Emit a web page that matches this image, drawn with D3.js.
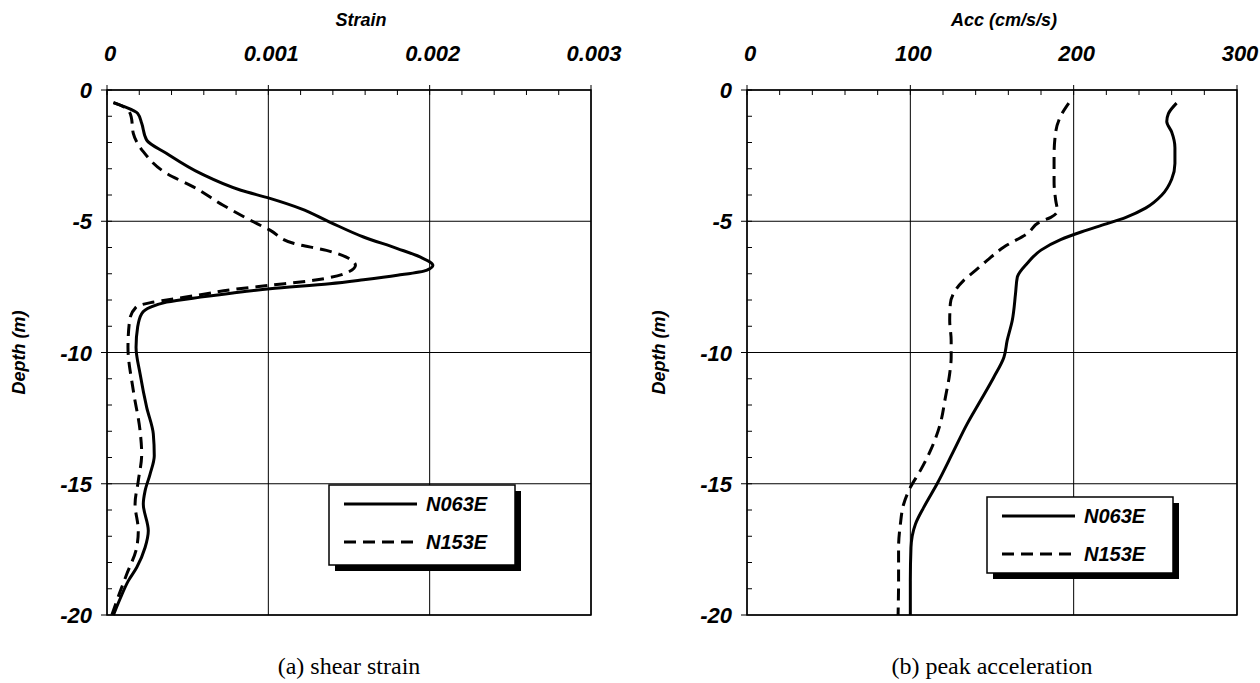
<!DOCTYPE html>
<html>
<head>
<meta charset="utf-8">
<script src="https://cdn.jsdelivr.net/npm/d3@7"></script>
<style>
  body { margin: 0; background: #fff; }
  text { fill: #000; }
  .tick-label { font-family: "Liberation Sans", Arial, sans-serif; font-weight: bold; font-style: italic; font-size: 22px; }
  .axis-title { font-family: "Liberation Sans", Arial, sans-serif; font-weight: bold; font-style: italic; font-size: 18px; }
  .legend-text { font-family: "Liberation Sans", Arial, sans-serif; font-weight: bold; font-style: italic; font-size: 20px; }
  .caption { font-family: "Liberation Serif", "Times New Roman", serif; font-size: 24px; }
</style>
</head>
<body>
<svg id="chart" width="1260" height="683"></svg>
<script>
// tick values
var depthTicks = [0, -5, -10, -15, -20];
var strainTicks = [0, 0.001, 0.002, 0.003];
var accTicks = [0, 100, 200, 300];
var seriesNames = ['N063E', 'N153E'];

// (a) shear strain
var strainDepthN063E = [-0.48, -0.64, -0.89, -1.27, -1.91, -2.42, -3.18, -3.82, -4.13, -4.52, -5.03, -5.6, -6.04, -6.36, -6.68, -6.87, -7.06, -7.23, -7.38, -7.57, -7.73, -7.89, -8.08, -8.27, -8.52, -9.03, -9.8, -10.81, -12.09, -13.1, -13.93, -14.63, -15.27, -15.77, -16.79, -17.43, -18.19, -18.7, -19.4, -20];
var strainN063E = [0.00004, 0.00011, 0.00019, 0.000215, 0.000246, 0.00037, 0.00058, 0.00083, 0.00101, 0.0012, 0.00138, 0.00159, 0.0018, 0.00194, 0.00202, 0.00198, 0.0018, 0.00159, 0.00138, 0.00101, 0.00078, 0.00058, 0.00037, 0.00027, 0.000215, 0.00019, 0.00018, 0.000205, 0.000246, 0.000287, 0.000293, 0.000267, 0.000236, 0.000225, 0.000256, 0.000236, 0.000184, 0.000132, 0.00008, 0.00004];

var strainDepthN153E = [-0.48, -0.7, -1.02, -1.65, -2.35, -3.18, -3.69, -4.39, -5.03, -5.34, -5.85, -6.11, -6.42, -6.68, -7.0, -7.25, -7.44, -7.6, -7.8, -8.0, -8.1, -8.27, -8.78, -9.8, -11.45, -12.98, -13.87, -14.89, -15.77, -16.79, -17.43, -18.45, -19.3, -20];
var strainN153E = [0.00004, 0.00012, 0.00015, 0.000163, 0.000225, 0.00037, 0.000535, 0.00072, 0.00091, 0.00101, 0.00116, 0.00136, 0.0015, 0.00154, 0.00147, 0.00128, 0.00101, 0.00078, 0.00058, 0.00037, 0.00027, 0.00018, 0.00014, 0.00013, 0.000163, 0.000205, 0.000215, 0.000194, 0.000174, 0.000194, 0.000184, 0.000122, 0.00007, 0.00003];

// (b) peak acceleration
var accDepthN063E = [-0.5, -0.9, -1.2, -1.6, -2.2, -2.8, -3.4, -4.0, -4.5, -4.85, -5.1, -5.4, -5.7, -6.1, -6.6, -7.13, -7.76, -8.78, -9.54, -10.18, -10.94, -11.83, -12.72, -13.74, -15.0, -15.9, -16.54, -17.43, -18.7, -20];
var accN063E = [263, 258, 257, 260, 262, 262, 260, 254, 244, 232, 220, 205, 192, 180, 171.6, 165.5, 164.4, 162.4, 159.3, 157.3, 151.1, 143, 134.8, 126.6, 116.4, 108.2, 103.1, 100.4, 100, 100];

var accDepthN153E = [-0.5, -1.0, -1.6, -2.5, -3.5, -4.2, -4.6, -4.85, -5.0, -5.47, -5.98, -6.49, -6.93, -7.25, -7.63, -8.14, -8.78, -9.54, -10.18, -10.8, -11.7, -12.7, -13.74, -14.5, -15.14, -15.78, -16.54, -17.43, -18.7, -20];
var accN153E = [197, 192, 189, 188, 188, 189, 190, 186, 180, 171.6, 157.3, 147, 138.8, 132.7, 127.6, 124.5, 124.1, 125, 125, 124.1, 121.5, 118.4, 112.3, 106.1, 100, 95.9, 93.9, 92.8, 92.8, 92.5];

var svg = d3.select('#chart');

function drawPanel(options) {
  var x = d3.scaleLinear().domain(options.xDomain).range([options.left, options.right]),
      y = d3.scaleLinear().domain([0, -20]).range([options.top, options.bottom]);

  var g = svg.append('g');

  // grid lines at the major ticks
  g.selectAll('.grid-x')
   .data(options.xTicks)
   .enter().append('line')
   .attr('x1', function(d) { return x(d); })
   .attr('x2', function(d) { return x(d); })
   .attr('y1', options.top - 5)
   .attr('y2', options.bottom)
   .attr('stroke', '#000')
   .attr('stroke-width', 1);

  g.selectAll('.grid-y')
   .data(depthTicks)
   .enter().append('line')
   .attr('x1', options.left - 6)
   .attr('x2', options.right)
   .attr('y1', function(d) { return y(d); })
   .attr('y2', function(d) { return y(d); })
   .attr('stroke', '#000')
   .attr('stroke-width', 1);

  // minor ticks, pointing into the plot
  var xMinor = d3.range(options.xDomain[0], options.xDomain[1], options.xMinorStep);
  g.selectAll('.minor-x')
   .data(xMinor)
   .enter().append('line')
   .attr('x1', function(d) { return x(d); })
   .attr('x2', function(d) { return x(d); })
   .attr('y1', options.top)
   .attr('y2', options.top + 5)
   .attr('stroke', '#000');

  g.selectAll('.minor-y')
   .data(d3.range(0, -20, -1))
   .enter().append('line')
   .attr('x1', options.left)
   .attr('x2', options.left + 5)
   .attr('y1', function(d) { return y(d); })
   .attr('y2', function(d) { return y(d); })
   .attr('stroke', '#000');

  // frame
  g.append('rect')
   .attr('x', options.left)
   .attr('y', options.top)
   .attr('width', options.right - options.left)
   .attr('height', options.bottom - options.top)
   .attr('fill', 'none')
   .attr('stroke', '#000')
   .attr('stroke-width', 1.5);

  // tick labels
  g.selectAll('.x-label')
   .data(options.xTicks)
   .enter().append('text')
   .attr('class', 'tick-label')
   .attr('text-anchor', 'middle')
   .attr('x', function(d) { return x(d) + 3; })
   .attr('y', options.top - 29)
   .text(options.xFormat);

  g.selectAll('.y-label')
   .data(depthTicks)
   .enter().append('text')
   .attr('class', 'tick-label')
   .attr('text-anchor', 'end')
   .attr('x', options.left - 15)
   .attr('y', function(d) { return y(d) + 8; })
   .text(function(d) { return d; });

  // axis titles
  g.append('text')
   .attr('class', 'axis-title')
   .attr('text-anchor', 'middle')
   .attr('x', (options.left + options.right) / 2 + 12)
   .attr('y', options.top - 64)
   .text(options.xTitle);

  g.append('text')
   .attr('class', 'axis-title')
   .attr('text-anchor', 'middle')
   .attr('transform', 'translate(' + (options.left - 82) + ',' + y(-10) + ') rotate(-90)')
   .text('Depth (m)');

  // the two profiles
  var line = d3.line()
               .x(function(d) { return x(d[0]); })
               .y(function(d) { return y(d[1]); })
               .curve(d3.curveMonotoneY);

  options.series.forEach(function(s) {
    g.append('path')
     .datum(d3.zip(s.values, s.depth))
     .attr('d', line)
     .attr('fill', 'none')
     .attr('stroke', '#000')
     .attr('stroke-width', 3)
     .attr('stroke-dasharray', s.dash);
  });

  // legend with a drop shadow
  var lg = g.append('g')
            .attr('transform', 'translate(' + options.legend[0] + ',' + options.legend[1] + ')');
  lg.append('rect')
    .attr('x', 6).attr('y', 6)
    .attr('width', options.legend[2]).attr('height', options.legend[3])
    .attr('fill', '#000');
  lg.append('rect')
    .attr('width', options.legend[2]).attr('height', options.legend[3])
    .attr('fill', '#fff')
    .attr('stroke', '#000')
    .attr('stroke-width', 1.5);
  options.series.forEach(function(s, i) {
    var ly = 19 + i * 38;
    lg.append('line')
      .attr('x1', 15).attr('x2', 88)
      .attr('y1', ly).attr('y2', ly)
      .attr('stroke', '#000')
      .attr('stroke-width', 3)
      .attr('stroke-dasharray', s.dash);
    lg.append('text')
      .attr('class', 'legend-text')
      .attr('x', 97)
      .attr('y', ly + 7)
      .text(seriesNames[i]);
  });

  // caption under the panel
  svg.append('text')
     .attr('class', 'caption')
     .attr('text-anchor', 'middle')
     .attr('x', (options.left + options.right) / 2)
     .attr('y', 674)
     .text(options.caption);
}

drawPanel({
  left: 107, right: 591, top: 90, bottom: 615,
  xDomain: [0, 0.003], xTicks: strainTicks, xMinorStep: 0.0002,
  xFormat: function(d) { return d === 0 ? '0' : d3.format('.3f')(d); },
  xTitle: 'Strain',
  caption: '(a) shear strain',
  legend: [329, 485, 186, 80],
  series: [
    {depth: strainDepthN063E, values: strainN063E, dash: null},
    {depth: strainDepthN153E, values: strainN153E, dash: '12,7'}
  ]
});

drawPanel({
  left: 747, right: 1237, top: 90, bottom: 615,
  xDomain: [0, 300], xTicks: accTicks, xMinorStep: 20,
  xFormat: function(d) { return d; },
  xTitle: 'Acc (cm/s/s)',
  caption: '(b) peak acceleration',
  legend: [987, 497, 186, 76],
  series: [
    {depth: accDepthN063E, values: accN063E, dash: null},
    {depth: accDepthN153E, values: accN153E, dash: '12,7'}
  ]
});
</script>
</body>
</html>
